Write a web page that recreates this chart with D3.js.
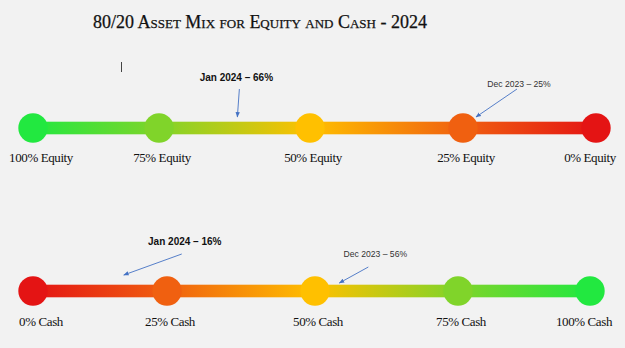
<!DOCTYPE html>
<html>
<head>
<meta charset="utf-8">
<script src="https://cdn.jsdelivr.net/npm/d3@7"></script>
<style>
  html,body{margin:0;padding:0;background:#F2F2F2;}
  svg{display:block;}
</style>
</head>
<body>
<svg id="chart" width="625" height="348"></svg>
<script>
// ---- data ----
const title = "80/20 Asset Mix for Equity and Cash - 2024";
const equityTicks = [100, 75, 50, 25, 0];
const equityLabels = ["100% Equity", "75% Equity", "50% Equity", "25% Equity", "0% Equity"];
const cashTicks = [0, 25, 50, 75, 100];
const cashLabels = ["0% Cash", "25% Cash", "50% Cash", "75% Cash", "100% Cash"];
const noteDates = ["Jan 2024", "Dec 2023"];
const equityNoteValues = [66, 25];
const cashNoteValues = [16, 56];
const stopColorsEquity = ["#22E840", "#80D42A", "#FFC000", "#F06010", "#E41414"];
const stopColorsCash = ["#E41414", "#F06010", "#FFC000", "#80D42A", "#22E840"];

// ---- layout ----
const W = 625, H = 348;
const topRow = {y: 128, px: [33, 159, 310, 463, 596], labelY: 162};
const botRow = {y: 291, px: [33, 167, 315, 458, 590], labelY: 326};
const equityNoteLayout = [
  {tip: [24, -11], start: [26, -39], text: [23, -47], bold: true},
  {tip: [13, -11], start: [54, -39], text: [56, -41], bold: false}
];
const cashNoteLayout = [
  {tip: [5, -16], start: [63, -37], text: [66, -46], bold: true},
  {tip: [-10, -8], start: [19, -24], text: [26, -34], bold: false}
];

const svg = d3.select("#chart");
svg.append("rect").attr("width", W).attr("height", H).attr("fill", "#F2F2F2");

const defs = svg.append("defs");
defs.append("marker")
  .attr("id", "arrow").attr("viewBox", "0 0 10 10")
  .attr("refX", 9).attr("refY", 5)
  .attr("markerWidth", 6).attr("markerHeight", 6)
  .attr("orient", "auto-start-reverse")
  .append("path").attr("d", "M0,1 L10,5 L0,9 z").attr("fill", "#4472C4");

// title
svg.append("text")
  .attr("x", 260).attr("y", 28)
  .attr("text-anchor", "middle")
  .attr("font-family", "'Liberation Serif', serif")
  .attr("font-size", 18)
  .attr("stroke", "#111").attr("stroke-width", 0.25)
  .style("font-variant", "small-caps")
  .attr("fill", "#111")
  .text(title);

// stray text cursor
svg.append("line").attr("x1", 121.5).attr("x2", 121.5).attr("y1", 62).attr("y2", 72)
  .attr("stroke", "#444").attr("stroke-width", 1);

function drawRow(id, ticks, labels, colors, row, noteValues, noteLayout) {
  const x = d3.scaleLinear().domain(ticks).range(row.px);
  const x0 = x(ticks[0]), x1 = x(ticks[ticks.length - 1]);
  const grad = defs.append("linearGradient").attr("id", id)
    .attr("gradientUnits", "userSpaceOnUse")
    .attr("x1", x0).attr("x2", x1).attr("y1", 0).attr("y2", 0);
  ticks.forEach((t, i) => {
    grad.append("stop").attr("offset", (x(t) - x0) / (x1 - x0)).attr("stop-color", colors[i]);
  });
  const g = svg.append("g");
  g.append("rect")
    .attr("x", x0).attr("width", x1 - x0)
    .attr("y", row.y - 6.3).attr("height", 12.6)
    .attr("fill", `url(#${id})`);
  g.selectAll("circle").data(ticks).join("circle")
    .attr("cx", d => x(d)).attr("cy", row.y).attr("r", 14.7)
    .attr("fill", (d, i) => colors[i]);
  g.selectAll("text.lab").data(labels).join("text")
    .attr("class", "lab")
    .attr("x", (d, i) => x(ticks[i]) + (i === 0 ? 8 : i === ticks.length - 1 ? -6 : 3))
    .attr("y", row.labelY)
    .attr("text-anchor", "middle")
    .attr("font-family", "'Liberation Serif', serif")
    .attr("font-size", 13)
    .attr("letter-spacing", -0.4)
    .attr("fill", "#111")
    .text(d => d);
  noteValues.forEach((v, i) => {
    const L = noteLayout[i];
    const bx = x(v), by = row.y;
    g.append("line")
      .attr("x1", bx + L.start[0]).attr("y1", by + L.start[1])
      .attr("x2", bx + L.tip[0]).attr("y2", by + L.tip[1])
      .attr("stroke", "#4472C4").attr("stroke-width", 0.9)
      .attr("marker-end", "url(#arrow)");
    g.append("text")
      .attr("x", bx + L.text[0]).attr("y", by + L.text[1])
      .attr("text-anchor", "middle")
      .attr("font-family", "'Liberation Sans', Arial, sans-serif")
      .attr("font-size", L.bold ? 10 : 8.6)
      .attr("font-weight", L.bold ? "bold" : "normal")
      .attr("fill", L.bold ? "#111" : "#333")
      .text(`${noteDates[i]} \u2013 ${v}%`);
  });
}

drawRow("gEq", equityTicks, equityLabels, stopColorsEquity, topRow, equityNoteValues, equityNoteLayout);
drawRow("gCash", cashTicks, cashLabels, stopColorsCash, botRow, cashNoteValues, cashNoteLayout);
</script>
</body>
</html>
